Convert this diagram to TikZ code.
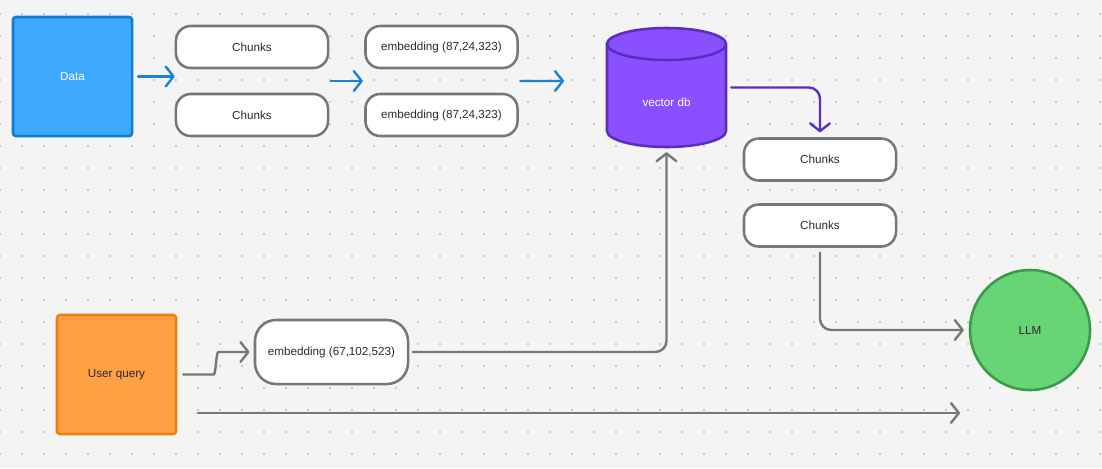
\documentclass[tikz,border=0pt]{standalone}
\usepackage{fontspec}
\setmainfont{Liberation Sans}
\usetikzlibrary{arrows.meta, calc}

\definecolor{canvas}{HTML}{F4F4F4}
\definecolor{dotgray}{HTML}{BEBEBE}
\definecolor{ink}{HTML}{2A2A2A}
\definecolor{edgegray}{HTML}{777777}
\definecolor{datafill}{HTML}{3FA9FD}
\definecolor{dataedge}{HTML}{0C7CD6}
\definecolor{bluelink}{HTML}{1A80D8}
\definecolor{dbfill}{HTML}{8A4FFF}
\definecolor{dbedge}{HTML}{5A2CC0}
\definecolor{queryfill}{HTML}{FFA045}
\definecolor{queryedge}{HTML}{EF7F06}
\definecolor{llmfill}{HTML}{66D575}
\definecolor{llmedge}{HTML}{3A9A48}

\begin{document}
\begin{tikzpicture}[x=0.025cm, y=-0.025cm,
  font=\fontsize{8.3}{10}\selectfont,
  box/.style={draw=edgegray, line width=1.8pt, fill=white, text=ink,
    rounded corners=10.5pt, minimum width=3.8cm, minimum height=1.05cm, inner sep=0pt},
  square/.style={line width=1.8pt, rounded corners=2pt,
    minimum width=2.975cm, minimum height=2.975cm, inner sep=0pt},
  link/.style={line width=1.7pt, line cap=round, rounded corners=8pt,
    -{Straight Barb[round, length=5.5pt, width=14pt]}},
  ]
%the canvas
\fill [canvas] (0,0) rectangle (1102,468);
\useasboundingbox (0,0) rectangle (1102,468);
\foreach \i in {0,...,50}
  \foreach \j in {0,...,20}
    \fill [dotgray] (22*\i, 14+22*\j) circle (0.8pt);

%the cylinder
\draw [dbedge, fill=dbfill, line width=1.8pt] (607,44) -- (607,131)
  arc [start angle=180, end angle=0, x radius=59.5, y radius=16] -- (726,44)
  arc [start angle=0, end angle=-180, x radius=59.5, y radius=16] -- cycle;
\draw [dbedge, line width=1.8pt] (607,44)
  arc [start angle=180, end angle=0, x radius=59.5, y radius=16];

%the boxes
\node [square, draw=dataedge, fill=datafill, text=white] (data) at (72.5,76.5) {Data};
\node [box] (chunk1) at (252,47) {Chunks};
\node [box] (chunk2) at (252,115) {Chunks};
\node [box] (emb1) at (441.5,47) {embedding (87,24,323)};
\node [box] (emb2) at (441.5,115) {embedding (87,24,323)};
\node [minimum width=2.975cm, minimum height=2.975cm, inner sep=0pt,
  label={[text=white, yshift=-0.36cm]center:vector db}] (db) at (666.5,87.5) {};
\node [box] (chunk3) at (820,159.5) {Chunks};
\node [box] (chunk4) at (820,225.5) {Chunks};
\node [square, draw=queryedge, fill=queryfill, text=ink] (query) at (116.5,374.5) {User query};
\node [box, minimum width=3.825cm, minimum height=1.6cm, rounded corners=15pt] (emb3) at (331.5,352) {embedding (67,102,523)};
\node [circle, draw=llmedge, fill=llmfill, line width=1.8pt, text=ink,
  minimum size=3.0cm, inner sep=0pt] (llm) at (1030,330) {LLM};

%the free ends
\coordinate (dbin) at (564,81);
\coordinate (qtail) at (198,413);
\coordinate (qhead) at (960,413);

%the blue arrows
\draw [link, bluelink, shorten <=3.5pt] (data.east) -- (chunk1.west |- data.east);
\draw [link, bluelink, shorten <=1pt, shorten >=1pt] ($(chunk1.east)!0.5!(chunk2.east)$) -- ($(emb1.west)!0.5!(emb2.west)$);
\draw [link, bluelink, shorten <=1pt] ($(emb1.east)!0.5!(emb2.east)$) -- (dbin);

%the purple one
\draw [link, dbedge, shorten <=3.5pt, shorten >=3.5pt] (db.east) -| (chunk3.north);

%the gray ones
\draw [link, edgegray, shorten <=3.5pt, shorten >=3.5pt] (chunk4.south) |- (llm.west);
\draw [link, edgegray, shorten >=3pt] (query.east) ++(6,0) -- ++(19,0)
  to[out=0, in=180] ($(emb3.west)+(-24,0)$) -- (emb3.west);
\draw [link, edgegray, shorten <=2.5pt, shorten >=3.5pt] (emb3.east) -| (db.south);
\draw [link, edgegray] (qtail) -- (qhead);
\end{tikzpicture}
\end{document}
